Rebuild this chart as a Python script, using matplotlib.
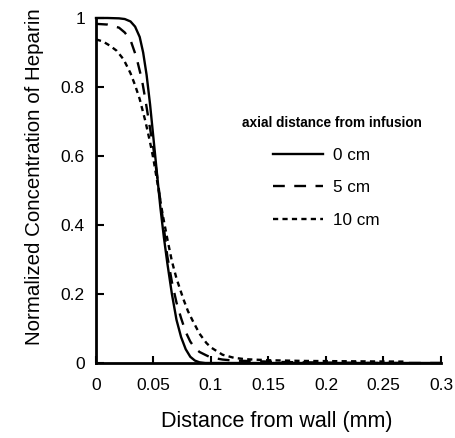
import matplotlib
matplotlib.use("Agg")
import matplotlib.pyplot as plt

# ---- data ----
x_0cm = [0, 0.01, 0.02, 0.025, 0.03, 0.034, 0.038, 0.041, 0.044, 0.047, 0.05,
         0.053, 0.056, 0.059, 0.062, 0.066, 0.07, 0.074, 0.078, 0.082, 0.086,
         0.09, 0.095, 0.1, 0.15, 0.2, 0.25, 0.3]
y_0cm = [1.0, 1.0, 0.999, 0.997, 0.99, 0.975, 0.945, 0.90, 0.835, 0.75, 0.65,
         0.55, 0.45, 0.365, 0.29, 0.20, 0.125, 0.075, 0.04, 0.018, 0.007,
         0.002, 0.0, 0.0, 0.0, 0.0, 0.0, 0.0]

x_5cm = [0, 0.01, 0.02, 0.025, 0.03, 0.035, 0.04, 0.043, 0.046, 0.05, 0.054,
         0.058, 0.062, 0.066, 0.07, 0.074, 0.078, 0.082, 0.086, 0.09, 0.096,
         0.1, 0.11, 0.12, 0.14, 0.16, 0.2, 0.25, 0.3]
y_5cm = [0.983, 0.981, 0.972, 0.958, 0.936, 0.888, 0.82, 0.762, 0.70, 0.62,
         0.52, 0.42, 0.31, 0.235, 0.175, 0.13, 0.09, 0.062, 0.043, 0.032,
         0.022, 0.016, 0.01, 0.007, 0.005, 0.003, 0.001, 0.0, 0.0]

x_10cm = [0, 0.006, 0.012, 0.018, 0.024, 0.03, 0.034, 0.038, 0.043, 0.047,
          0.05, 0.054, 0.058, 0.062, 0.066, 0.07, 0.076, 0.08, 0.084, 0.09,
          0.096, 0.1, 0.11, 0.12, 0.13, 0.15, 0.18, 0.22, 0.27]
y_10cm = [0.938, 0.932, 0.92, 0.905, 0.88, 0.84, 0.805, 0.765, 0.70, 0.64,
          0.59, 0.51, 0.43, 0.36, 0.295, 0.245, 0.185, 0.15, 0.123, 0.085,
          0.058, 0.045, 0.024, 0.015, 0.011, 0.008, 0.006, 0.005, 0.004]

series_labels = ["0 cm", "5 cm", "10 cm"]
legend_title = "axial distance from infusion"
x_ticks = [0, 0.05, 0.1, 0.15, 0.2, 0.25, 0.3]
x_tick_labels = ["0", "0.05", "0.1", "0.15", "0.2", "0.25", "0.3"]
y_ticks = [0, 0.2, 0.4, 0.6, 0.8, 1.0]
y_tick_labels = ["0", "0.2", "0.4", "0.6", "0.8", "1"]
x_label = "Distance from wall (mm)"
y_label = "Normalized Concentration of Heparin"

plt.rcParams["font.family"] = ["Liberation Sans", "DejaVu Sans"]

fig = plt.figure(figsize=(4.56, 4.38), dpi=100)
ax = fig.add_axes([96 / 456, 1 - 363 / 438, 345 / 456, 345 / 438])

lw = 1.7
l0, = ax.plot(x_0cm, y_0cm, color="black", lw=lw, linestyle="-", clip_on=False)
l1, = ax.plot(x_5cm, y_5cm, color="black", lw=lw, linestyle=(0, (5, 4)), clip_on=False)
l2, = ax.plot(x_10cm, y_10cm, color="black", lw=lw, linestyle=(0, (2.2, 1.8)), clip_on=False)

ax.set_xlim(0, 0.3)
ax.set_ylim(0, 1.0)
ax.set_xticks(x_ticks)
ax.set_xticklabels(x_tick_labels)
ax.set_yticks(y_ticks)
ax.set_yticklabels(y_tick_labels)

for s in ["top", "right"]:
    ax.spines[s].set_visible(False)
for s in ["left", "bottom"]:
    ax.spines[s].set_linewidth(2.0)
    ax.spines[s].set_capstyle("projecting")

ax.tick_params(axis="x", direction="in", length=5, width=1.5, pad=11, labelsize=12.5)
ax.tick_params(axis="y", direction="in", length=6, width=1.5, pad=8, labelsize=12.5)

ax.set_xlabel(x_label, fontsize=15.5)
ax.set_ylabel(y_label, fontsize=14.8)
ax.xaxis.set_label_coords(0.523, -0.14)
ax.yaxis.set_label_coords(-0.15, 0.54)

ax.text((242 - 96) / 345, (363 - 123) / 345, legend_title, transform=ax.transAxes,
        fontsize=9.8, fontweight="bold", ha="left", va="center")

leg = ax.legend([l0, l1, l2], series_labels, loc="upper left",
                bbox_to_anchor=((273 - 96) / 345, (363 - 148) / 345),
                frameon=False, fontsize=12.3, handlelength=2.9,
                handletextpad=0.6, labelspacing=1.02, borderaxespad=0,
                borderpad=0)

fig.savefig("out.png", dpi=100)
